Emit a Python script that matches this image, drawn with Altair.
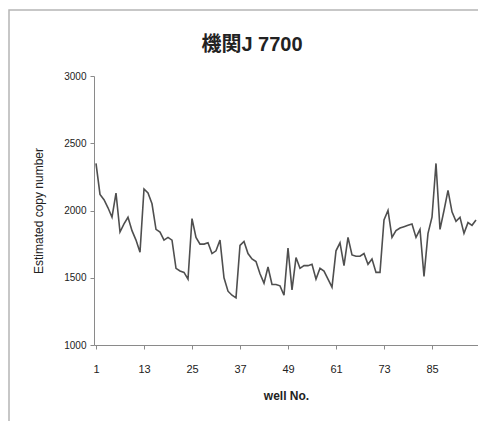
import altair as alt
import pandas as pd

title_text = "機関J  7700"
x_title = "well No."
y_title = "Estimated copy number"
x_tick_values = [1, 13, 25, 37, 49, 61, 73, 85]
y_tick_values = [1000, 1500, 2000, 2500, 3000]

wells = list(range(1, 97))
copy_number = [
    2350, 2120, 2080, 2020, 1950, 2130, 1840, 1900, 1950, 1850, 1780, 1690,
    2160, 2130, 2050, 1860, 1840, 1780, 1800, 1780, 1570, 1550, 1540, 1490,
    1940, 1800, 1750, 1750, 1760, 1680, 1700, 1780, 1500, 1400, 1370, 1350,
    1740, 1770, 1680, 1640, 1620, 1530, 1460, 1580, 1450, 1450, 1440, 1370,
    1720, 1410, 1650, 1570, 1590, 1590, 1600, 1490, 1570, 1550, 1490, 1430,
    1700, 1760, 1590, 1800, 1670, 1660, 1660, 1680, 1600, 1640, 1540, 1540,
    1930, 2000, 1800, 1850, 1870, 1880, 1890, 1900, 1800, 1860, 1510, 1830,
    1950, 2350, 1860, 2000, 2150, 1990, 1920, 1950, 1830, 1910, 1890, 1930,
]

df = pd.DataFrame({"well": wells, "value": copy_number})

FONT = "Liberation Sans, Arial, Noto Sans CJK JP, sans-serif"
one = pd.DataFrame({"t": [title_text]})

frame = alt.Chart(one).mark_rect(
    filled=False, stroke="#b5b5b5", strokeWidth=1.5
).encode(
    x=alt.value(-85), x2=alt.value(400), y=alt.value(-66), y2=alt.value(351)
)

title = alt.Chart(one).mark_text(
    fontSize=20, fontWeight="bold", font=FONT, color="#222222",
    align="center", baseline="middle",
).encode(text="t:N", x=alt.value(158), y=alt.value(-31))

line = alt.Chart(df).mark_line(color="#4f4f4f", strokeWidth=1.6).encode(
    x=alt.X(
        "well:Q",
        scale=alt.Scale(domain=[0.5, 96.5], nice=False, zero=False),
        axis=alt.Axis(
            values=x_tick_values, title=x_title, grid=False, format="d",
            labelFontSize=11, labelPadding=14, tickSize=4,
            titleFontSize=12, titleFontWeight="bold", titlePadding=16,
            domainColor="#8a8a8a", tickColor="#8a8a8a",
            labelColor="#222222", titleColor="#222222",
            labelFont=FONT, titleFont=FONT,
        ),
    ),
    y=alt.Y(
        "value:Q",
        scale=alt.Scale(domain=[1000, 3000], nice=False, zero=False),
        axis=alt.Axis(
            values=y_tick_values, title=y_title, grid=False, format="d",
            labelFontSize=10, labelPadding=4, tickSize=4,
            titleFontSize=12, titleFontWeight="normal", titlePadding=18,
            domainColor="#8a8a8a", tickColor="#8a8a8a",
            labelColor="#222222", titleColor="#222222",
            labelFont=FONT, titleFont=FONT,
        ),
    ),
)

chart = alt.layer(frame, title, line).properties(
    width=384,
    height=269,
    autosize=alt.AutoSizeParams(type="none"),
    padding={"left": 86, "top": 68, "right": 0, "bottom": 76},
    background="#ffffff",
).configure_view(stroke=None)

chart.save("out.html", embed_options={"renderer": "svg", "actions": False})
